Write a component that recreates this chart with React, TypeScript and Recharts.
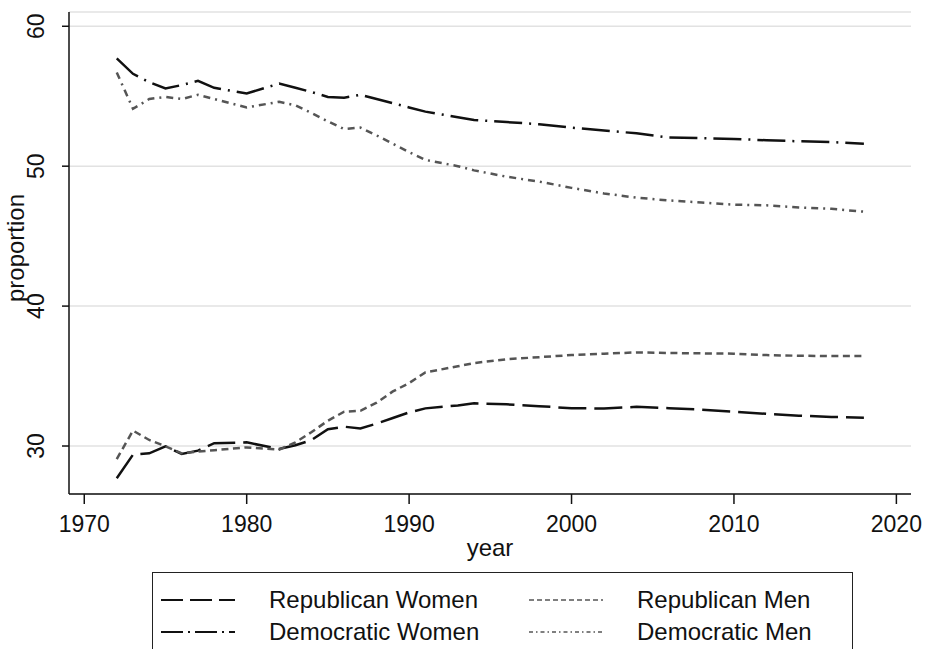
import React from 'react';
import { LineChart, Line, XAxis, YAxis, CartesianGrid } from 'recharts';

// survey years
const years = [
  1972, 1973, 1974, 1975, 1976, 1977, 1978, 1980, 1982, 1983, 1984, 1985, 1986, 1987, 1988, 1989,
  1990, 1991, 1993, 1994, 1996, 1998, 2000, 2002, 2004, 2006, 2008, 2010, 2012, 2014, 2016, 2018,
];

const republicanWomen = [
  27.7, 29.38, 29.48, 29.98, 29.43, 29.67, 30.2, 30.26, 29.79, 30.05, 30.43, 31.2, 31.38, 31.26, 31.6, 32.0,
  32.4, 32.69, 32.9, 33.05, 32.98, 32.85, 32.7, 32.68, 32.8, 32.7, 32.6, 32.45, 32.3, 32.17, 32.08, 32.02,
];

const republicanMen = [
  29.07, 31.1, 30.43, 29.98, 29.48, 29.6, 29.7, 29.9, 29.74, 30.26, 31.0, 31.81, 32.45, 32.52, 33.1, 33.9,
  34.5, 35.26, 35.7, 35.93, 36.2, 36.35, 36.5, 36.6, 36.69, 36.65, 36.62, 36.6, 36.5, 36.45, 36.43, 36.43,
];

const democraticWomen = [
  57.7, 56.6, 56.0, 55.55, 55.8, 56.1, 55.6, 55.2, 55.9, 55.6, 55.3, 54.95, 54.9, 55.1, 54.8, 54.5,
  54.2, 53.9, 53.5, 53.3, 53.15, 53.0, 52.75, 52.55, 52.35, 52.05, 52.0, 51.95, 51.85, 51.78, 51.72, 51.6,
];

const democraticMen = [
  56.7, 54.1, 54.8, 54.95, 54.8, 55.1, 54.8, 54.2, 54.6, 54.35, 53.8, 53.2, 52.65, 52.76, 52.2, 51.6,
  51.0, 50.45, 50.0, 49.7, 49.25, 48.9, 48.45, 48.05, 47.75, 47.55, 47.4, 47.25, 47.2, 47.05, 46.95, 46.75,
];

const xTicks = [1970, 1980, 1990, 2000, 2010, 2020];
const yTicks = [30, 40, 50, 60];

const FONT = '"Liberation Sans", Arial, Helvetica, sans-serif';
const INK = '#111';
const GREY = '#555';

const data = years.map((year, i) => ({
  year,
  rw: republicanWomen[i],
  rm: republicanMen[i],
  dw: democraticWomen[i],
  dm: democraticMen[i],
}));

const XTick = (props: any) => {
  const { x, y, payload } = props;
  return (
    <text x={x} y={y + 26} textAnchor="middle" fontFamily={FONT} fontSize={23} fill={INK}>
      {payload.value}
    </text>
  );
};

const YTick = (props: any) => {
  const { x, y, payload } = props;
  return (
    <text
      transform={`translate(${x - 16},${y}) rotate(-90)`}
      textAnchor="middle"
      fontFamily={FONT}
      fontSize={23}
      fill={INK}
    >
      {payload.value}
    </text>
  );
};

const legendItems = [
  { label: 'Republican Women', color: INK, dash: '22 7', width: 2, left: 8, top: 0 },
  { label: 'Republican Men', color: GREY, dash: '5 3', width: 1.6, left: 376, top: 0 },
  { label: 'Democratic Women', color: INK, dash: '22 5 2 5', width: 2, left: 8, top: 32 },
  { label: 'Democratic Men', color: GREY, dash: '4 3 1.5 3', width: 1.6, left: 376, top: 32 },
];

const LegendBox = () => (
  <div
    style={{
      position: 'absolute',
      left: 152,
      top: 572,
      width: 701,
      height: 100,
      border: '1.5px solid #222',
      boxSizing: 'border-box',
      fontFamily: FONT,
      fontSize: 24,
      color: INK,
    }}
  >
    {legendItems.map((it) => (
      <div
        key={it.label}
        style={{ position: 'absolute', left: it.left, top: it.top + 12, height: 30, display: 'flex', alignItems: 'center' }}
      >
        <svg width={74} height={10} style={{ marginRight: 34 }}>
          <line x1={0} y1={5} x2={74} y2={5} stroke={it.color} strokeWidth={it.width} strokeDasharray={it.dash} />
        </svg>
        <span style={{ lineHeight: '30px', whiteSpace: 'nowrap' }}>{it.label}</span>
      </div>
    ))}
  </div>
);

export default function App() {
  return (
    <div
      style={{
        position: 'absolute',
        left: 0,
        top: 0,
        width: 926,
        height: 649,
        overflow: 'hidden',
        background: '#fff',
      }}
    >
      <LineChart width={926} height={649} data={data} margin={{ top: 12, right: 15, left: 0, bottom: 0 }}>
        <CartesianGrid vertical={false} stroke="#e2e2e2" strokeWidth={1.5} />
        <XAxis
          dataKey="year"
          type="number"
          domain={[1969.06, 2020.9]}
          ticks={xTicks}
          allowDataOverflow
          height={155}
          tickSize={10}
          tickMargin={2}
          tick={<XTick />}
          stroke={INK}
          strokeWidth={1.5}
          label={{
            content: () => (
              <text x={490} y={556} textAnchor="middle" fontFamily={FONT} fontSize={24} fill={INK}>
                year
              </text>
            ),
          }}
        />
        <YAxis
          type="number"
          domain={[26.57, 61.02]}
          ticks={yTicks}
          allowDataOverflow
          width={69}
          tickSize={7}
          tickMargin={2}
          tick={<YTick />}
          stroke={INK}
          strokeWidth={1.5}
          label={{
            content: () => (
              <text
                transform="translate(24,248) rotate(-90)"
                textAnchor="middle"
                fontFamily={FONT}
                fontSize={24}
                fill={INK}
              >
                proportion
              </text>
            ),
          }}
        />
        <Line dataKey="rw" stroke={INK} strokeWidth={2.5} strokeDasharray="28 8" dot={false} isAnimationActive={false} />
        <Line dataKey="rm" stroke={GREY} strokeWidth={2.5} strokeDasharray="7 4.5" dot={false} isAnimationActive={false} />
        <Line dataKey="dw" stroke={INK} strokeWidth={2.5} strokeDasharray="28 7 2 7" dot={false} isAnimationActive={false} />
        <Line dataKey="dm" stroke={GREY} strokeWidth={2.5} strokeDasharray="7 5 2 5" dot={false} isAnimationActive={false} />
      </LineChart>
      <LegendBox />
    </div>
  );
}
